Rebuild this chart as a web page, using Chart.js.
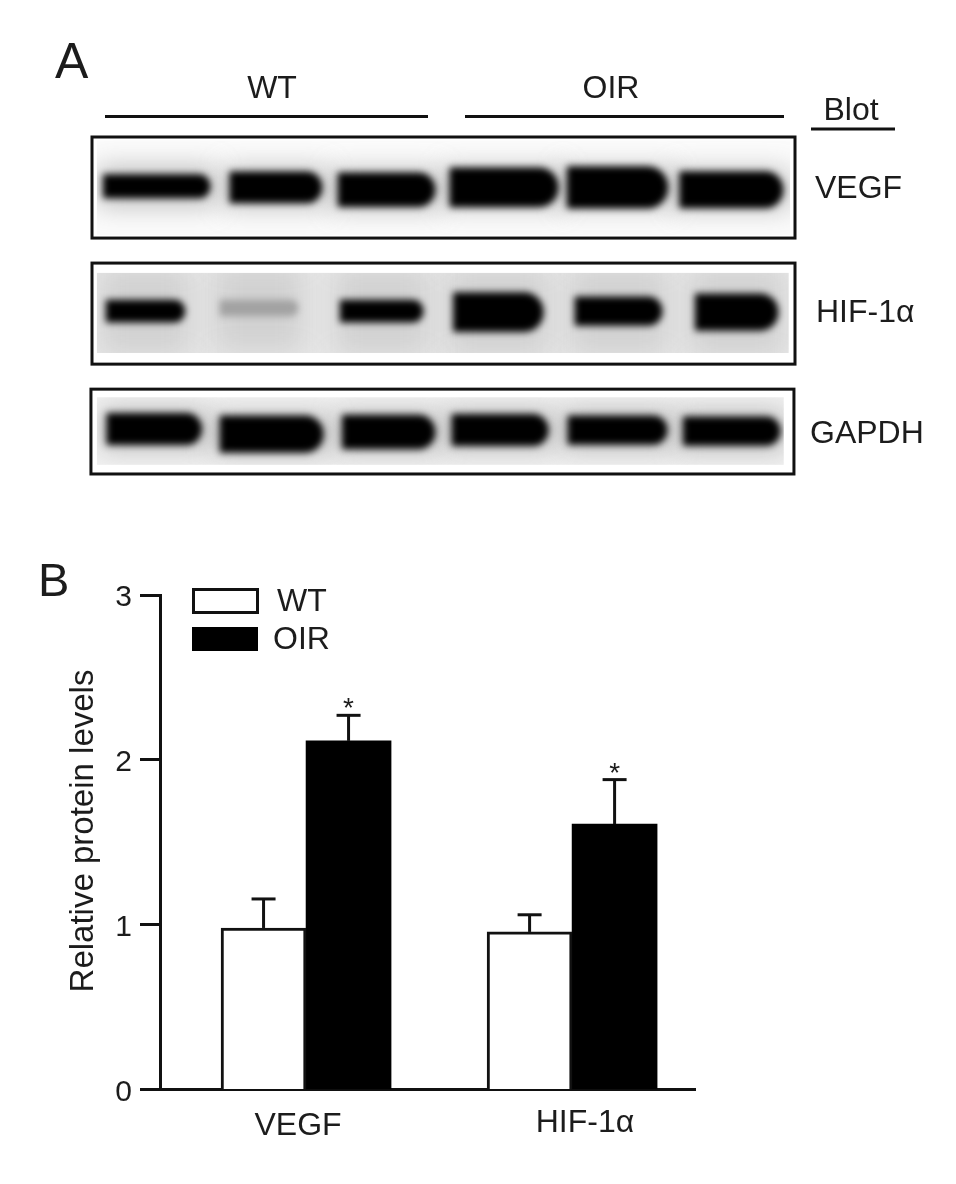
<!DOCTYPE html>
<html>
<head>
<meta charset="utf-8">
<title>VEGF and HIF-1α in WT and OIR</title>
<script src="https://cdn.jsdelivr.net/npm/chart.js@4"></script>
<style>
    html, body { margin: 0; padding: 0; background: #ffffff; }
    canvas { position: absolute; left: 0; }
    #blotChart { top: 0; }
    #barChart { top: 500px; }
</style>
</head>
<body>
<canvas id="blotChart" width="956" height="500"></canvas>
<canvas id="barChart" width="956" height="684"></canvas>
<script>
// Panel B values
const categories = ['VEGF', 'HIF-1α'];
const seriesNames = ['WT', 'OIR'];
const wtValues = [0.98, 0.956];
const oirValues = [2.115, 1.61];
const wtErrors = [0.176, 0.104];
const oirErrors = [0.155, 0.27];
const yTicks = [0, 1, 2, 3];

// Panel A bands, one entry per lane (percent of the blot area)
const blotNames = ['VEGF', 'HIF-1α', 'GAPDH'];
const vegfStart = [1.6, 19.6, 35.0, 50.9, 67.6, 83.6];
const vegfEnd = [16.8, 32.7, 48.8, 66.3, 81.9, 98.3];
const vegfRow = [14.6, 14.9, 15.6, 14.9, 14.9, 15.6];
const vegfThick = [5.3, 7.1, 7.7, 8.9, 9.5, 8.3];
const vegfDensity = [1, 1, 1, 1, 1, 1];

const hifStart = [2.0, 18.2, 35.3, 51.4, 68.7, 85.8];
const hifEnd = [13.2, 29.3, 47.1, 64.2, 81.1, 97.6];
const hifRow = [51.5, 50.6, 51.5, 51.8, 51.5, 51.8];
const hifThick = [5.0, 3.6, 5.0, 8.9, 6.5, 8.3];
const hifDensity = [1, 0.33, 1, 1, 1, 1];

const gapdhStart = [2.1, 18.2, 35.6, 51.2, 67.7, 84.1];
const gapdhEnd = [15.6, 32.9, 48.8, 64.9, 81.8, 97.9];
const gapdhRow = [86.4, 87.9, 87.3, 86.7, 86.7, 87.0];
const gapdhThick = [7.1, 8.3, 7.7, 7.1, 6.5, 6.5];
const gapdhDensity = [1, 1, 1, 1, 1, 1];

const FONT = '"Liberation Sans", Arial, sans-serif';
const INK = '#1c1c1c';

function drawText(ctx, text, x, y, size, align, rotate) {
    ctx.save();
    ctx.translate(x, y);
    if (rotate) ctx.rotate(-Math.PI / 2);
    ctx.font = size + 'px ' + FONT;
    ctx.fillStyle = INK;
    ctx.textAlign = align || 'left';
    ctx.textBaseline = 'alphabetic';
    ctx.fillText(text, 0, 0);
    ctx.restore();
}

function drawLine(ctx, x1, y1, x2, y2, width) {
    ctx.save();
    ctx.strokeStyle = '#111111';
    ctx.lineWidth = width || 3;
    ctx.beginPath();
    ctx.moveTo(x1, y1);
    ctx.lineTo(x2, y2);
    ctx.stroke();
    ctx.restore();
}

// ---------- Panel A ----------
const blotBoxes = [
    { frame: [0, 0, 100, 29.9], image: [0.7, 1.0, 99.3, 29.0], base: '#fbfbfb' },
    { frame: [0, 37.3, 100, 67.2], image: [0.7, 40.2, 99.1, 63.9], base: '#e8e8e8' },
    { frame: [-0.15, 74.6, 99.85, 99.7], image: [0.7, 77.0, 98.4, 97.0], base: '#f2f2f2' }
];

function bandDatasets(box, start, end, row, thick, density) {
    const sets = [];
    start.forEach((s, i) => {
        // soft haze behind the band
        sets.push({
            data: [{ x: [s - 0.8, end[i] + 0.8], y: row[i] }],
            barThickness: (box === 1 ? 26 : 12) * 3.38,
            backgroundColor: box === 1 ? 'rgba(120,120,120,0.2)' : 'rgba(110,110,110,0.4)',
            blur: box === 1 ? 14 : 13,
            box: box,
            order: 2
        });
        const shade = Math.round(255 * (1 - density[i]) * 0.95);
        sets.push({
            data: [{ x: [s, end[i]], y: row[i] }],
            barThickness: thick[i] * 3.38 * 1.3,
            backgroundColor: `rgb(${shade},${shade},${shade})`,
            blur: 3.5,
            box: box,
            borderRadius: 24,
            order: 1
        });
    });
    return sets;
}

const blotPlugin = {
    id: 'blotPlugin',
    beforeDatasetsDraw(chart) {
        const { ctx, scales: { x, y } } = chart;
        blotBoxes.forEach(b => {
            const [x1, y1, x2, y2] = b.image;
            ctx.fillStyle = b.base;
            ctx.fillRect(x.getPixelForValue(x1), y.getPixelForValue(y1),
                x.getPixelForValue(x2) - x.getPixelForValue(x1), y.getPixelForValue(y2) - y.getPixelForValue(y1));
        });
    },
    beforeDatasetDraw(chart, args) {
        const { ctx, scales: { x, y } } = chart;
        const ds = chart.data.datasets[args.index];
        const [x1, y1, x2, y2] = blotBoxes[ds.box].image;
        ctx.save();
        ctx.beginPath();
        ctx.rect(x.getPixelForValue(x1), y.getPixelForValue(y1),
            x.getPixelForValue(x2) - x.getPixelForValue(x1), y.getPixelForValue(y2) - y.getPixelForValue(y1));
        ctx.clip();
        ctx.filter = `blur(${ds.blur}px)`;
    },
    afterDatasetDraw(chart) {
        chart.ctx.restore();
    },
    afterDatasetsDraw(chart) {
        const { ctx, scales: { x, y } } = chart;
        blotBoxes.forEach(b => {
            const [x1, y1, x2, y2] = b.frame;
            ctx.save();
            ctx.strokeStyle = '#111111';
            ctx.lineWidth = 3;
            ctx.strokeRect(x.getPixelForValue(x1), y.getPixelForValue(y1),
                x.getPixelForValue(x2) - x.getPixelForValue(x1), y.getPixelForValue(y2) - y.getPixelForValue(y1));
            ctx.restore();
        });

        // group bars and labels around the blots
        drawText(ctx, 'A', 55, 78, 50);
        drawText(ctx, seriesNames[0], 272, 98, 32, 'center');
        drawText(ctx, seriesNames[1], 611, 98, 32, 'center');
        drawLine(ctx, 105, 116.5, 428, 116.5);
        drawLine(ctx, 465, 116.5, 784, 116.5);
        drawText(ctx, 'Blot', 851, 120, 32, 'center');
        drawLine(ctx, 811, 129, 895, 129);
        drawText(ctx, blotNames[0], 815, 198, 32);
        drawText(ctx, blotNames[1], 816, 322, 32);
        drawText(ctx, blotNames[2], 810, 443, 32);
    }
};

new Chart(document.getElementById('blotChart'), {
    type: 'bar',
    data: {
        datasets: [
            ...bandDatasets(0, vegfStart, vegfEnd, vegfRow, vegfThick, vegfDensity),
            ...bandDatasets(1, hifStart, hifEnd, hifRow, hifThick, hifDensity),
            ...bandDatasets(2, gapdhStart, gapdhEnd, gapdhRow, gapdhThick, gapdhDensity)
        ]
    },
    options: {
        indexAxis: 'y',
        responsive: false,
        animation: false,
        grouped: false,
        layout: { padding: { left: 92, right: 161, top: 137, bottom: 25 } },
        plugins: { legend: { display: false }, tooltip: { enabled: false } },
        scales: {
            x: { type: 'linear', min: 0, max: 100, display: false },
            y: { type: 'linear', min: 0, max: 100, reverse: true, display: false, offset: false }
        }
    },
    plugins: [blotPlugin]
});

// ---------- Panel B ----------
const labelPlugin = {
    id: 'labelPlugin',
    afterDatasetsDraw(chart) {
        const { ctx, scales: { x, y } } = chart;
        const barOffset = chart.getDatasetMeta(0).data[0].width / 2;

        // error bars, upper arm only
        [[wtValues, wtErrors, -1], [oirValues, oirErrors, 1]].forEach(([vals, errs, side]) => {
            vals.forEach((v, i) => {
                const px = x.getPixelForValue(i + 1) + side * barOffset;
                const top = y.getPixelForValue(v + errs[i]);
                drawLine(ctx, px, y.getPixelForValue(v), px, top);
                drawLine(ctx, px - 12, top, px + 12, top);
                if (side === 1) drawText(ctx, '*', px, top + 2, 28, 'center');
            });
        });

        // legend
        ctx.save();
        ctx.strokeStyle = '#111111';
        ctx.lineWidth = 3;
        ctx.strokeRect(193.5, 89.5, 64, 23);
        ctx.fillStyle = '#000000';
        ctx.fillRect(192, 127, 66, 24);
        ctx.restore();
        drawText(ctx, seriesNames[0], 277, 111, 32);
        drawText(ctx, seriesNames[1], 273, 149, 32);

        drawText(ctx, 'B', 38, 96, 47);
        drawText(ctx, 'Relative protein levels', 93, 331, 33, 'center', true);
        drawText(ctx, categories[0], 298, 635, 32, 'center');
        drawText(ctx, categories[1], 585, 632, 32, 'center');
    }
};

new Chart(document.getElementById('barChart'), {
    type: 'bar',
    data: {
        datasets: [
            {
                label: seriesNames[0],
                data: wtValues.map((v, i) => ({ x: i + 1, y: v })),
                backgroundColor: '#ffffff',
                borderColor: '#111111',
                borderWidth: 3,
                borderSkipped: 'bottom'
            },
            {
                label: seriesNames[1],
                data: oirValues.map((v, i) => ({ x: i + 1, y: v })),
                backgroundColor: '#000000',
                borderColor: '#000000',
                borderWidth: 0
            }
        ]
    },
    options: {
        responsive: false,
        animation: false,
        barThickness: 85,
        layout: { padding: { left: 0, right: 261, top: 95, bottom: 94.5 } },
        plugins: { legend: { display: false }, tooltip: { enabled: false } },
        scales: {
            x: {
                type: 'linear',
                min: 0.451,
                max: 2.462,
                offset: false,
                afterFit: scale => { scale.height = 0; },
                ticks: { display: false },
                grid: { drawOnChartArea: false, drawTicks: false },
                border: { color: '#111111', width: 3 }
            },
            y: {
                min: 0,
                max: 3,
                afterFit: scale => { scale.width = 160; },
                afterBuildTicks: scale => { scale.ticks = yTicks.map(v => ({ value: v })); },
                ticks: { color: INK, font: { family: FONT, size: 30 }, padding: 8, labelOffset: 3 },
                grid: { drawOnChartArea: false, tickLength: 20, tickColor: '#111111', tickWidth: 3 },
                border: { color: '#111111', width: 3 }
            }
        }
    },
    plugins: [labelPlugin]
});
</script>
</body>
</html>
